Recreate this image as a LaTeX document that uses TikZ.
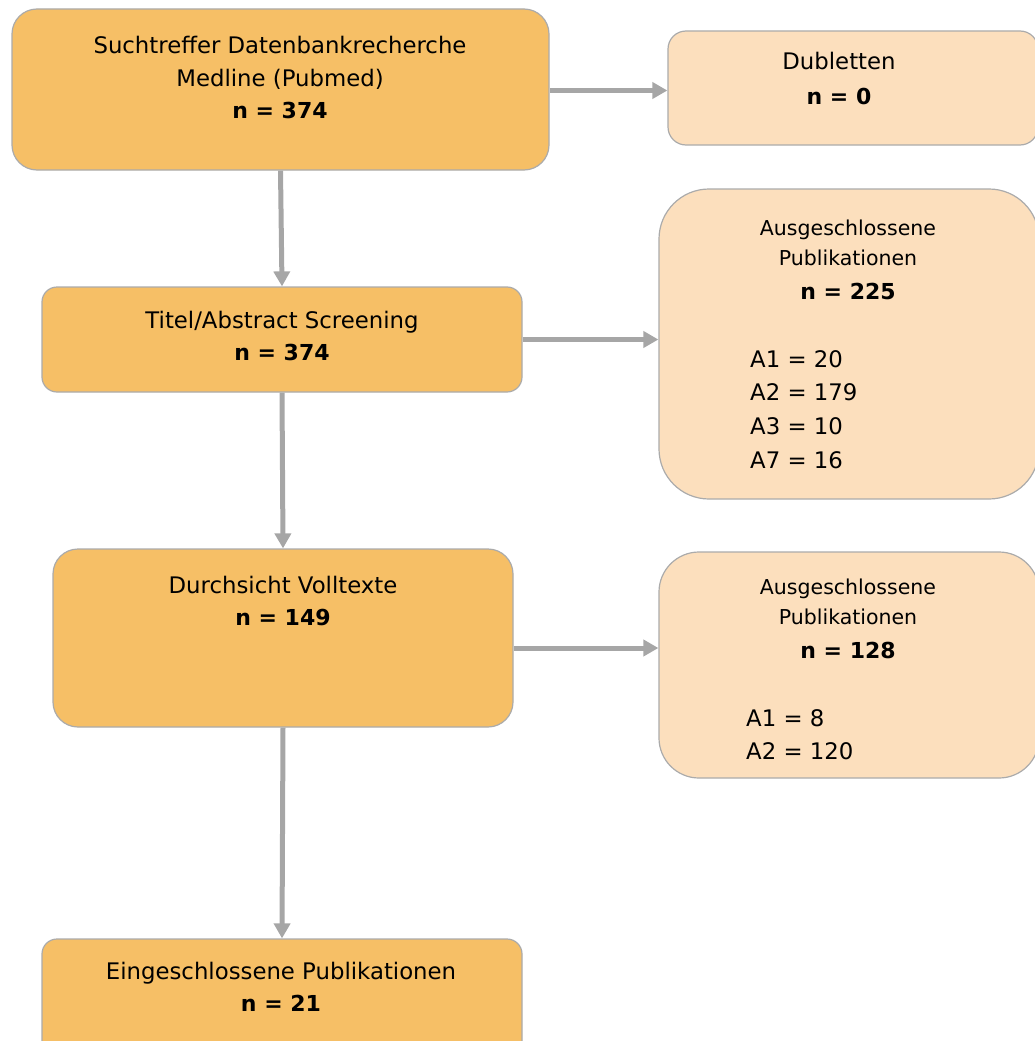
\documentclass[tikz,border=0pt]{standalone}
\usepackage{fontspec}
\setmainfont{DejaVu Sans}
\usetikzlibrary{arrows.meta,calc}

\definecolor{boxorange}{HTML}{F6BF66}
\definecolor{boxpeach}{HTML}{FCDFBD}
\definecolor{boxedge}{HTML}{ABABAB}
\definecolor{arrowgray}{HTML}{A6A6A6}

\tikzset{
  mainbox/.style={draw=boxedge, line width=1.2pt, fill=boxorange, inner sep=0pt},
  sidebox/.style={draw=boxedge, line width=1.2pt, fill=boxpeach, inner sep=0pt},
  flow/.style={draw=arrowgray, line width=5pt, -{Triangle[length=15pt,width=16pt]}},
  txt/.style={inner sep=0pt, anchor=base, font=\fontsize{22.8}{26}\selectfont},
  smalltxt/.style={inner sep=0pt, anchor=base, font=\fontsize{20.5}{24}\selectfont},
  boldtxt/.style={inner sep=0pt, anchor=base, font=\fontsize{22}{26}\selectfont\bfseries},
  itemtxt/.style={inner sep=0pt, anchor=base west, font=\fontsize{22.8}{26}\selectfont},
}

\begin{document}
\begin{tikzpicture}[x=1pt,y=-1pt]
\useasboundingbox (0,0) rectangle (1035,1041);

% boxes
\node[mainbox, rounded corners=25pt, minimum width=537pt, minimum height=161pt] (search) at (280.5,89.5) {};
\node[sidebox, rounded corners=18pt, minimum width=370pt, minimum height=114pt] (dup) at (853,88) {};
\node[mainbox, rounded corners=15pt, minimum width=480pt, minimum height=105pt] (screen) at (282,339.5) {};
\node[sidebox, rounded corners=50pt, minimum width=380pt, minimum height=310pt] (excl1) at (849,344) {};
\node[mainbox, rounded corners=25pt, minimum width=460pt, minimum height=178pt] (full) at (283,638) {};
\node[sidebox, rounded corners=40pt, minimum width=380pt, minimum height=226pt] (excl2) at (849,665) {};
\begin{scope}
\clip (0,0) rectangle (1035,1041);
\node[mainbox, rounded corners=15pt, minimum width=480pt, minimum height=130pt] (incl) at (282,1004) {};
\end{scope}

% texts
\node[txt] (t1a) at (280,53) {Suchtreffer Datenbankrecherche};
\node[txt] (t1b) at (280,86) {Medline (Pubmed)};
\node[boldtxt] (t1c) at (280,118) {n = 374};

\node[txt] (t2a) at (839,70) {Dubletten};
\node[boldtxt] (t2b) at (839,104) {n = 0};

\node[txt] (t3a) at (282,328) {Titel/Abstract Screening};
\node[boldtxt] (t3b) at (282,360) {n = 374};

\node[smalltxt] (t4a) at (848,235) {Ausgeschlossene};
\node[smalltxt] (t4b) at (848,265) {Publikationen};
\node[boldtxt] (t4c) at (848,299) {n = 225};
\node[itemtxt] (t4d) at (750,367) {A1 = 20};
\node[itemtxt] (t4e) at (750,400) {A2 = 179};
\node[itemtxt] (t4f) at (750,434) {A3 = 10};
\node[itemtxt] (t4g) at (750,468) {A7 = 16};

\node[txt] (t5a) at (283,593) {Durchsicht Volltexte};
\node[boldtxt] (t5b) at (283,625) {n = 149};

\node[smalltxt] (t6a) at (848,594) {Ausgeschlossene};
\node[smalltxt] (t6b) at (848,624) {Publikationen};
\node[boldtxt] (t6c) at (848,658) {n = 128};
\node[itemtxt] (t6d) at (746,726) {A1 = 8};
\node[itemtxt] (t6e) at (746,759) {A2 = 120};

\node[txt] (t7a) at (281,979) {Eingeschlossene Publikationen};
\node[boldtxt] (t7b) at (281,1011) {n = 21};

% connectors
\draw[flow] ([yshift=-1pt]search.east) -- ([yshift=-1pt]search.east -| dup.west);
\draw[flow] (search.south) -- (screen.north);
\draw[flow] (screen.east) -- (screen.east -| excl1.west);
\draw[flow] (screen.south) -- (full.north);
\draw[flow] ([yshift=-10pt]full.east) -- ([yshift=-10pt]full.east -| excl2.west);
\draw[flow] (full.south) -- (incl.north);
\end{tikzpicture}
\end{document}
